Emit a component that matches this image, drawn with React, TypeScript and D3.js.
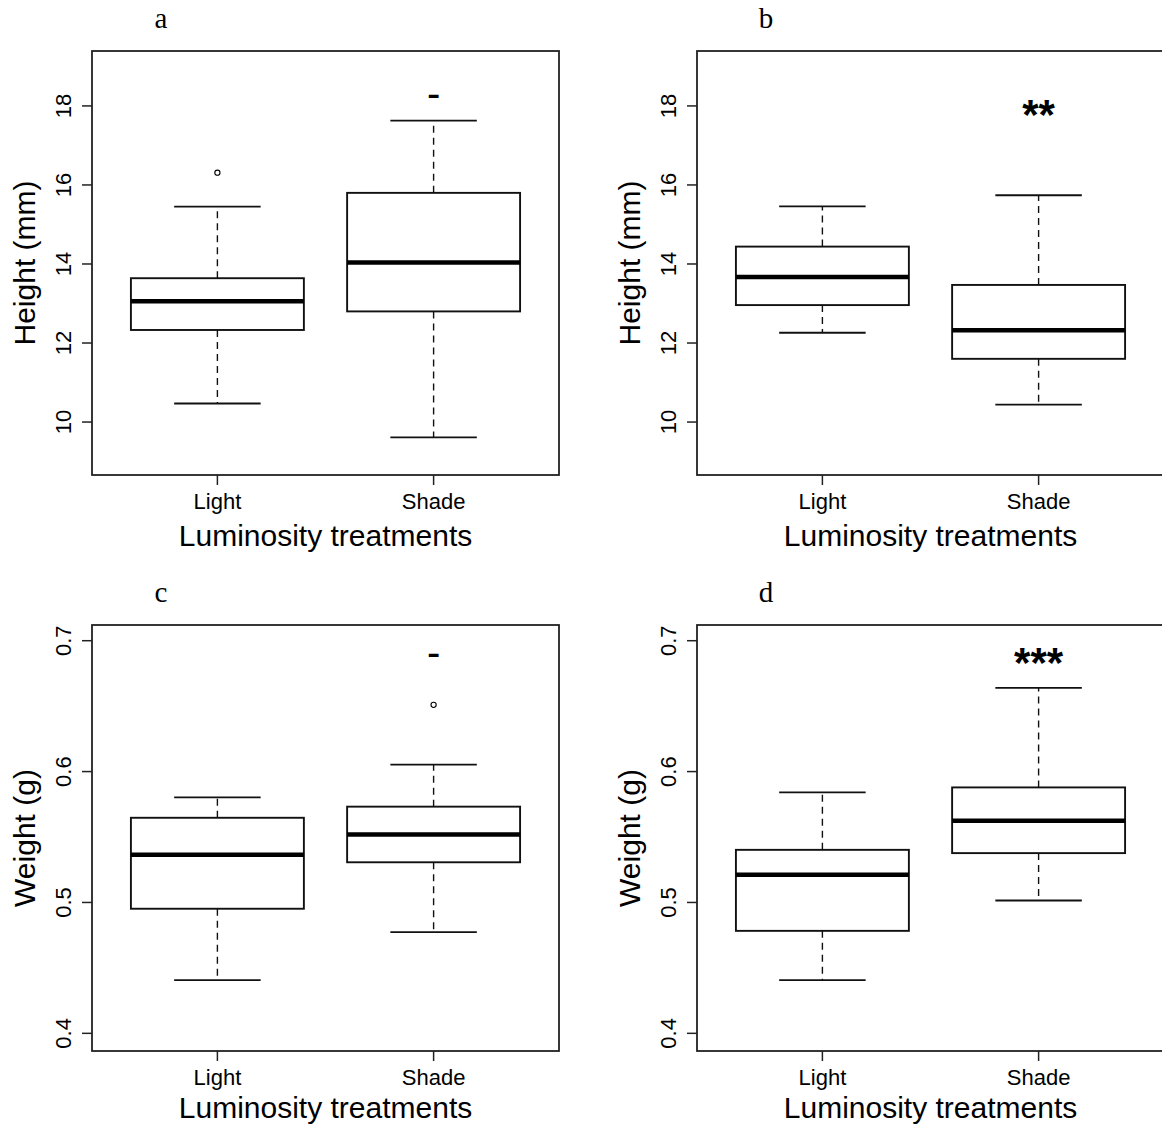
import React from "react";
import * as d3 from "d3";

// Categories & tick labels
const categories = ["Light", "Shade"];
const heightTicks = [10, 12, 14, 16, 18];
const weightTicks = [0.4, 0.5, 0.6, 0.7];

// Five-number summaries: [lower whisker, Q1, median, Q3, upper whisker]
const aLight = [10.47, 12.33, 13.06, 13.64, 15.45];
const aShade = [9.61, 12.8, 14.04, 15.8, 17.63];
const bLight = [12.26, 12.96, 13.67, 14.44, 15.46];
const bShade = [10.44, 11.6, 12.32, 13.47, 15.74];
const cLight = [0.4407, 0.4952, 0.5364, 0.5647, 0.5803];
const cShade = [0.4773, 0.5307, 0.5519, 0.5732, 0.6053];
const dLight = [0.4407, 0.4783, 0.5211, 0.5402, 0.5841];
const dShade = [0.5015, 0.5377, 0.5625, 0.5879, 0.664];

// Outliers per group
const aOutliers = [[16.31], []];
const bOutliers = [[], []];
const cOutliers = [[], [0.651]];
const dOutliers = [[], []];

// Significance annotations (on Shade group)
const annotationText = ["-", "**", "-", "***"];
const annotationValue = [17.98, 17.42, 0.681, 0.6725];

const panelLetters = ["a", "b", "c", "d"];
const yTitles = ["Height (mm)", "Height (mm)", "Weight (g)", "Weight (g)"];
const xTitle = "Luminosity treatments";

const heightDomain = [8.66, 19.39];
const weightDomain = [0.3865, 0.712];

const SANS = "'Liberation Sans', Arial, Helvetica, sans-serif";
const SERIF = "'Liberation Serif', 'Times New Roman', serif";

type PanelProps = {
  idx: number;
  left: number;
  right: number;
  top: number;
  bottom: number;
  stats: number[][];
  outliers: number[][];
  domain: number[];
  ticks: number[];
  titleOffset: number;
};

function Panel({ idx, left, right, top, bottom, stats, outliers, domain, ticks, titleOffset }: PanelProps) {
  const x = d3.scaleLinear().domain([0.42, 2.58]).range([left, right]);
  const y = d3.scaleLinear().domain(domain).range([bottom, top]);
  const halfBox = x(1.4) - x(1);
  const halfCap = x(1.2) - x(1);
  const fmt = domain[1] < 1 ? d3.format(".1f") : d3.format("d");
  const stroke = "#111";
  const ann = annotationText[idx];
  return (
    <g>
      {/* panel letter */}
      <text x={left + 69} y={top - 23} fontFamily={SERIF} fontSize={29} textAnchor="middle" fill="#000">
        {panelLetters[idx]}
      </text>
      {/* frame */}
      <rect x={left} y={top} width={right - left} height={bottom - top} fill="none" stroke="#222" strokeWidth={1.8} />
      {/* y ticks */}
      {ticks.map((t) => (
        <g key={t}>
          <line x1={left - 10} x2={left} y1={y(t)} y2={y(t)} stroke="#222" strokeWidth={1.5} />
          <text
            transform={`translate(${left - 21},${y(t)}) rotate(-90)`}
            textAnchor="middle"
            fontFamily={SANS}
            fontSize={22}
            fill="#000"
          >
            {fmt(t)}
          </text>
        </g>
      ))}
      {/* y title */}
      <text
        transform={`translate(${left - 57},${(top + bottom) / 2}) rotate(-90)`}
        textAnchor="middle"
        fontFamily={SANS}
        fontSize={30}
        fill="#000"
      >
        {yTitles[idx]}
      </text>
      {/* x ticks */}
      {categories.map((c, i) => (
        <g key={c}>
          <line x1={x(i + 1)} x2={x(i + 1)} y1={bottom} y2={bottom + 10} stroke="#222" strokeWidth={1.5} />
          <text x={x(i + 1)} y={bottom + 34} textAnchor="middle" fontFamily={SANS} fontSize={22} fill="#000">
            {c}
          </text>
        </g>
      ))}
      <text x={x(1.5)} y={bottom + titleOffset} textAnchor="middle" fontFamily={SANS} fontSize={30} fill="#000">
        {xTitle}
      </text>
      {/* boxes */}
      {stats.map((s, i) => {
        const cx = x(i + 1);
        const [lo, q1, med, q3, hi] = s;
        return (
          <g key={i}>
            <line x1={cx} x2={cx} y1={y(q3)} y2={y(hi)} stroke={stroke} strokeWidth={1.4} strokeDasharray="7,5" />
            <line x1={cx} x2={cx} y1={y(q1)} y2={y(lo)} stroke={stroke} strokeWidth={1.4} strokeDasharray="7,5" />
            <line x1={cx - halfCap} x2={cx + halfCap} y1={y(hi)} y2={y(hi)} stroke={stroke} strokeWidth={1.8} />
            <line x1={cx - halfCap} x2={cx + halfCap} y1={y(lo)} y2={y(lo)} stroke={stroke} strokeWidth={1.8} />
            <rect
              x={cx - halfBox}
              y={y(q3)}
              width={2 * halfBox}
              height={y(q1) - y(q3)}
              fill="#fff"
              stroke={stroke}
              strokeWidth={1.9}
            />
            <line x1={cx - halfBox} x2={cx + halfBox} y1={y(med)} y2={y(med)} stroke="#000" strokeWidth={4.5} />
            {outliers[i].map((o, k) => (
              <circle key={k} cx={cx} cy={y(o)} r={2.6} fill="none" stroke="#000" strokeWidth={1.1} />
            ))}
          </g>
        );
      })}
      {/* annotation */}
      <text
        x={x(2)}
        y={y(annotationValue[idx])}
        textAnchor="middle"
        fontFamily={SANS}
        fontSize={ann === "-" ? 40 : 42}
        fontWeight={ann === "-" ? "normal" : "bold"}
        fill="#000"
      >
        {ann}
      </text>
    </g>
  );
}

export default function App() {
  const cols = [
    [92, 559],
    [697, 1164],
  ];
  const rows = [
    [51, 475],
    [625, 1051],
  ];
  const titleOffsets = [71, 67];
  const panels = [
    { stats: [aLight, aShade], outliers: aOutliers, domain: heightDomain, ticks: heightTicks },
    { stats: [bLight, bShade], outliers: bOutliers, domain: heightDomain, ticks: heightTicks },
    { stats: [cLight, cShade], outliers: cOutliers, domain: weightDomain, ticks: weightTicks },
    { stats: [dLight, dShade], outliers: dOutliers, domain: weightDomain, ticks: weightTicks },
  ];
  return (
    <svg
      width={1162}
      height={1126}
      style={{ position: "absolute", left: 0, top: 0, background: "#fff" }}
      xmlns="http://www.w3.org/2000/svg"
    >
      <rect x={0} y={0} width={1162} height={1126} fill="#fff" />
      {panels.map((p, i) => (
        <Panel
          key={i}
          idx={i}
          left={cols[i % 2][0]}
          right={cols[i % 2][1]}
          top={rows[Math.floor(i / 2)][0]}
          bottom={rows[Math.floor(i / 2)][1]}
          stats={p.stats}
          outliers={p.outliers}
          domain={p.domain}
          ticks={p.ticks}
          titleOffset={titleOffsets[Math.floor(i / 2)]}
        />
      ))}
    </svg>
  );
}
